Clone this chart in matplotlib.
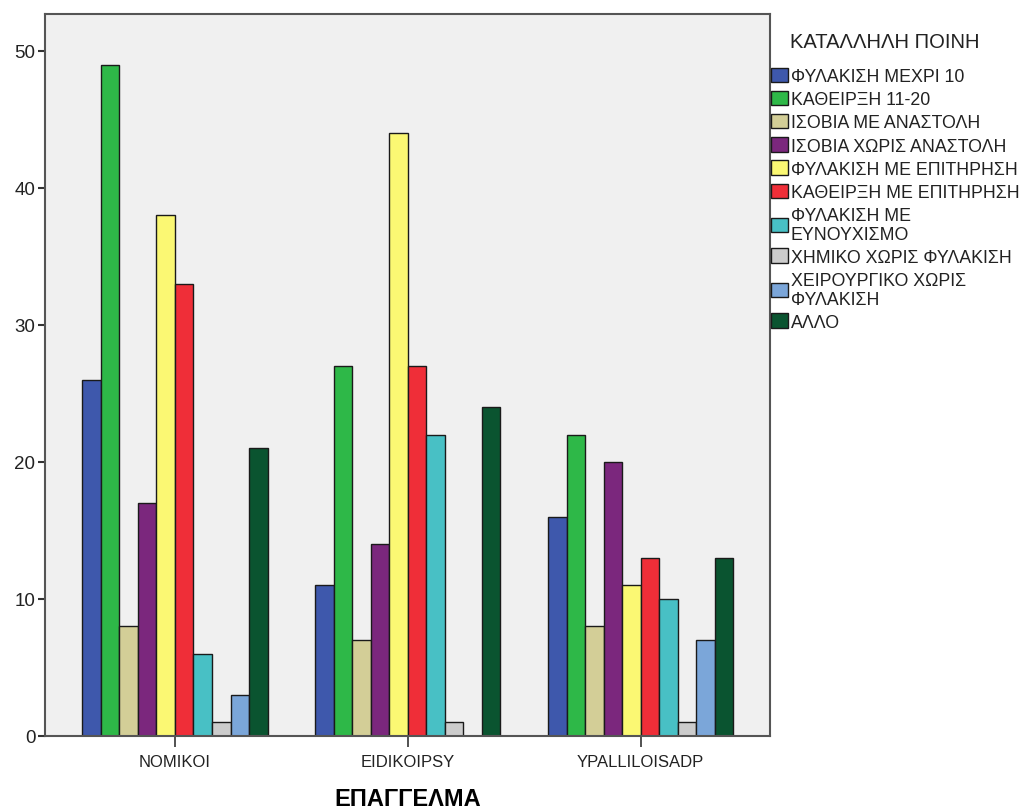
import matplotlib
matplotlib.use("Agg")
import matplotlib.pyplot as plt
import numpy as np

plt.rcParams['font.family'] = ['Liberation Sans', 'DejaVu Sans']

categories = ["NOMIKOI", "EIDIKOIPSY", "YPALLILOISADP"]
series_names = [
    "ΦΥΛΑΚΙΣΗ ΜΕΧΡΙ 10",
    "ΚΑΘΕΙΡΞΗ 11-20",
    "ΙΣΟΒΙΑ ΜΕ ΑΝΑΣΤΟΛΗ",
    "ΙΣΟΒΙΑ ΧΩΡΙΣ ΑΝΑΣΤΟΛΗ",
    "ΦΥΛΑΚΙΣΗ ΜΕ ΕΠΙΤΗΡΗΣΗ",
    "ΚΑΘΕΙΡΞΗ ΜΕ ΕΠΙΤΗΡΗΣΗ",
    "ΦΥΛΑΚΙΣΗ ΜΕ\nΕΥΝΟΥΧΙΣΜΟ",
    "ΧΗΜΙΚΟ ΧΩΡΙΣ ΦΥΛΑΚΙΣΗ",
    "ΧΕΙΡΟΥΡΓΙΚΟ ΧΩΡΙΣ\nΦΥΛΑΚΙΣΗ",
    "ΑΛΛΟ",
]
nomikoi = [26, 49, 8, 17, 38, 33, 6, 1, 3, 21]
eidikoipsy = [11, 27, 7, 14, 44, 27, 22, 1, 0, 24]
ypalliloisadp = [16, 22, 8, 20, 11, 13, 10, 1, 7, 13]
y_ticks = [0, 10, 20, 30, 40, 50]

colors = ["#3E58AC", "#2EB848", "#D3CE97", "#7B277D", "#FBF873",
          "#EF2E38", "#48C0C5", "#CCCCCC", "#7BA6D9", "#0A5430"]

values = np.array([nomikoi, eidikoipsy, ypalliloisadp])

W, H = 1024, 812
fig = plt.figure(figsize=(W / 100, H / 100), dpi=100)
ax = fig.add_axes([45 / W, 75 / H, 725 / W, 722 / H])
ax.set_facecolor("#F0F0F0")

n = len(series_names)
group_w = 0.795
bw = group_w / n
x = np.arange(len(categories))
handles = []
for i in range(n):
    h = values[:, i]
    pos = x - group_w / 2 + bw * (i + 0.5)
    mask = h > 0
    b = ax.bar(pos[mask], h[mask], width=bw, color=colors[i],
               edgecolor="#1a1a1a", linewidth=1.0, label=series_names[i])
    handles.append(b)

ax.set_xlim(-0.558, 2.555)
ax.set_ylim(0, 52.7)
ax.set_yticks(y_ticks)
ax.set_xticks(x)
ax.set_xticklabels(categories, fontsize=12, color="#222222")
ax.tick_params(axis='y', labelsize=13.5, length=5, width=1.5, color="#333333",
               pad=2, labelcolor="#222222")
ax.tick_params(axis='x', length=8, width=1.2, color="#333333", pad=5)
for s in ax.spines.values():
    s.set_color("#555555")
    s.set_linewidth(1.5)

ax.set_xlabel("ΕΠΑΓΓΕΛΜΑ", fontsize=17, fontweight="bold", va="center")
ax.xaxis.set_label_coords(0.5, -(800 - 737) / 722)

fig.text(790 / W, 1 - 42 / H, "ΚΑΤΑΛΛΗΛΗ ΠΟΙΝΗ", fontsize=14.5,
         color="#222222", ha="left", va="center")

leg = ax.legend(handles=handles, labels=series_names, loc="upper left",
                bbox_to_anchor=(771 / W, 1 - 69 / H),
                bbox_transform=fig.transFigure, frameon=False, fontsize=12.8,
                handlelength=0.95, handleheight=0.85, handletextpad=0.15,
                labelspacing=0.33, borderaxespad=0.0, borderpad=0.0)
for t in leg.get_texts():
    t.set_color("#222222")
    t.set_linespacing(1.15)

fig.savefig("out.png", dpi=100)
